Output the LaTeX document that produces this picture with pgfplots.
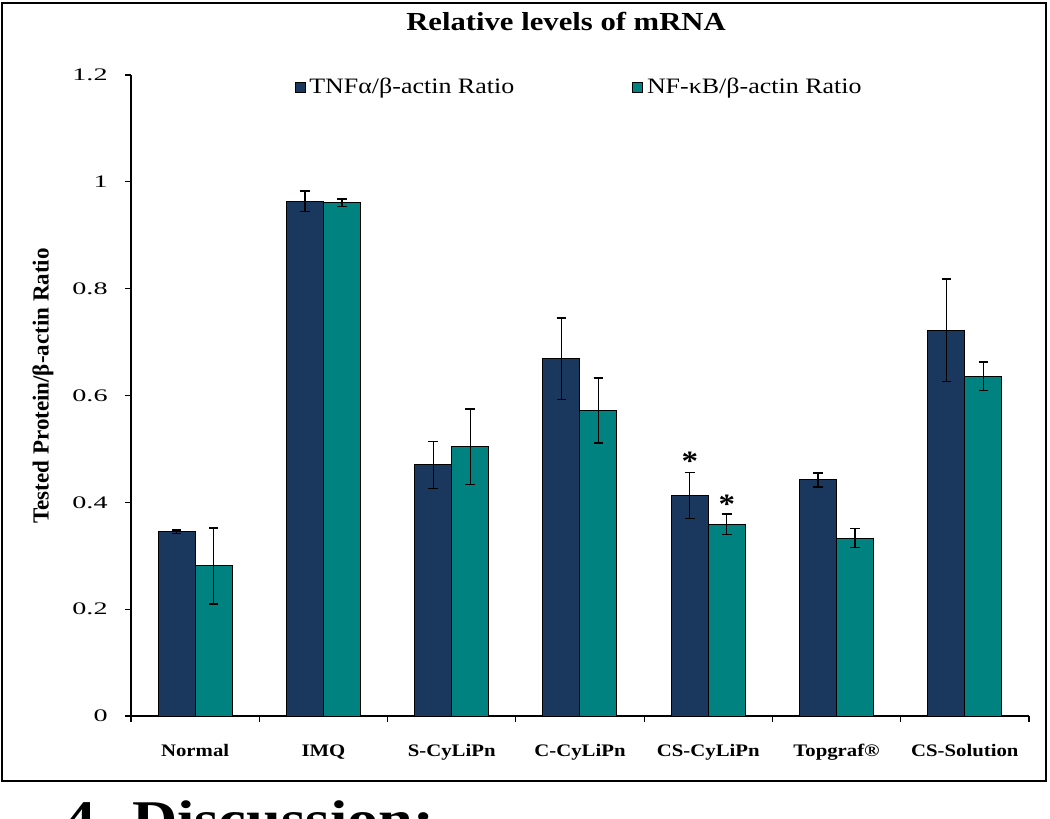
\documentclass[border=0pt]{standalone}
\usepackage{pgfplots}
\pgfplotsset{compat=1.18}
\usepackage{pgfplotstable}
\usepackage{fontspec}
\setmainfont{Liberation Serif}[FakeStretch=1.18]
\newfontfamily\plainfont{Liberation Serif}
\newfontfamily\tickfont{Liberation Serif}[FakeStretch=1.6]
\definecolor{navy}{RGB}{26,55,94}
\definecolor{tealc}{RGB}{0,130,128}

\pgfplotstableread{
x y e
0 0.345 0.003
1 0.964 0.019
2 0.470 0.044
3 0.669 0.076
4 0.413 0.043
5 0.442 0.013
6 0.722 0.096
}\tnf
\pgfplotstableread{
x y e
0 0.281 0.071
1 0.961 0.007
2 0.504 0.071
3 0.572 0.061
4 0.359 0.019
5 0.333 0.018
6 0.636 0.027
}\nfkb

\begin{document}
\begin{tikzpicture}
\useasboundingbox (0,0) rectangle (525pt,-409.5pt);
\clip (0,0) rectangle (525pt,-409.5pt);
\draw[line width=1pt] (1pt,-1.5pt) rectangle (523pt,-390.5pt);
\node[anchor=base, font=\bfseries\fontsize{13}{15}\selectfont] at (283pt,-15.5pt) {Relative levels of mRNA};
\node[anchor=base west, inner sep=0pt, font=\bfseries\fontsize{26.5}{30}\selectfont] at (32pt,-418.5pt) {4. Discussion:};
\node[rotate=90, anchor=center, inner sep=0pt, font=\plainfont\bfseries\fontsize{11.5}{13}\selectfont] at (21.5pt,-193pt) {Tested Protein/β-actin Ratio};
\begin{axis}[
  at={(65.5pt,-358pt)}, anchor=south west,
  scale only axis, width=449pt, height=320.5pt,
  ybar=0pt, bar width=18.5pt,
  xmin=-0.5, xmax=6.5, ymin=0, ymax=1.2,
  axis x line*=bottom, axis y line*=left,
  axis line style={line width=0.6pt, -},
  tick align=outside, major tick length=3pt,
  tick style={line width=0.6pt, black},
  xtick={-0.5,0.5,...,6.5}, xticklabels={},
  extra x ticks={0,1,2,3,4,5,6},
  extra x tick labels={Normal,IMQ,S-CyLiPn,C-CyLiPn,CS-CyLiPn,Topgraf\textregistered,CS-Solution},
  extra x tick style={major tick length=0pt, tick label style={font=\bfseries\fontsize{8.8}{10}\selectfont, anchor=base, yshift=-20pt}},
  ytick={0,0.2,...,1.2},
  yticklabels={0,0.2,0.4,0.6,0.8,1,1.2},
  yticklabel style={font=\tickfont\fontsize{8.8}{10}\selectfont, inner sep=0pt, xshift=-8.5pt},
  legend style={at={(0.5,1)}, anchor=center, yshift=-6pt, draw=none, fill=none,
    legend columns=2, font=\fontsize{11}{13}\selectfont,
    /tikz/every even column/.append style={column sep=57pt}},
  legend image code/.code={\draw[#1, draw=black, line width=0.4pt] (0pt,-2.5pt) rectangle (5pt,2.5pt);},
  error bars/error bar style={line width=0.7pt, black},
  error bars/error mark options={rotate=90, mark size=2.4pt, line width=0.7pt, black},
]
\addplot[fill=navy, draw=black, line width=0.5pt, error bars/.cd, y dir=both, y explicit] table[x=x, y=y, y error=e] {\tnf};
\addplot[fill=tealc, draw=black, line width=0.5pt, error bars/.cd, y dir=both, y explicit] table[x=x, y=y, y error=e] {\nfkb};
\legend{TNFα/β-actin Ratio, NF-κB/β-actin Ratio}
\node[font=\bfseries\fontsize{14}{14}\selectfont] at (axis cs:4,0.477) [xshift=-9.25pt] {*};
\node[font=\bfseries\fontsize{14}{14}\selectfont] at (axis cs:4,0.397) [xshift=9.25pt] {*};
\end{axis}
\end{tikzpicture}
\end{document}
